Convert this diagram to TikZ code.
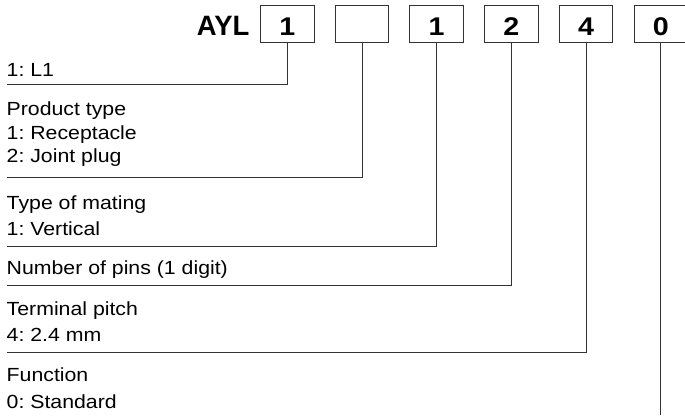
\documentclass[tikz,border=0pt]{standalone}
\usepackage{fontspec}
\setmainfont{Liberation Sans}[FakeStretch=1.12]
\newfontfamily\aylfont{Liberation Sans}[FakeStretch=0.98]
\frenchspacing
\begin{document}
\begin{tikzpicture}[x=1pt,y=-1pt,
  lbl/.style={anchor=base west,inner sep=0pt,font=\fontsize{19}{22}\selectfont},
  digit/.style={anchor=base,inner sep=0pt,font=\fontsize{25.6}{28}\selectfont\bfseries},
  codebox/.style={draw=black!80,line width=1pt,minimum width=53.6pt,minimum height=37.7pt,inner sep=0pt},
  conn/.style={draw=black!80,line width=1pt}]
\useasboundingbox (0,0) rectangle (685,416);
\begin{scope}
\clip (0,0) rectangle (685,416);
% prefix
\node[anchor=base east,inner sep=0pt,font=\fontsize{28}{30}\selectfont\aylfont\bfseries] (ayl) at (249.5,35) {AYL};
% boxes
\node[codebox] (b1) at (287.3,23.85) {};
\node[codebox] (b2) at (362.0,23.85) {};
\node[codebox] (b3) at (436.7,23.85) {};
\node[codebox] (b4) at (511.4,23.85) {};
\node[codebox] (b5) at (586.1,23.85) {};
\node[codebox] (b6) at (660.8,23.85) {};
\node[digit] (d1) at (287.3,35) {1};
\node[digit] (d3) at (436.7,35) {1};
\node[digit] (d4) at (511.4,35) {2};
\node[digit] (d5) at (586.1,35) {4};
\node[digit] (d6) at (660.8,35) {0};
% labels
\node[lbl] (t1) at (6.5,76) {1: L1};
\node[lbl] (t2a) at (6.5,115) {Product type};
\node[lbl] (t2b) at (6.5,139) {1: Receptacle};
\node[lbl] (t2c) at (6.5,162.7) {2: Joint plug};
\node[lbl] (t3a) at (6.5,209.3) {Type of mating};
\node[lbl] (t3b) at (6.5,235) {1: Vertical};
\node[lbl] (t4) at (6.5,274) {Number of pins (1 digit)};
\node[lbl] (t5a) at (6.5,315) {Terminal pitch};
\node[lbl] (t5b) at (6.5,341.7) {4: 2.4 mm};
\node[lbl] (t6a) at (6.5,381.7) {Function};
\node[lbl] (t6b) at (6.5,408.3) {0: Standard};
% connector ends
\coordinate (e1) at (7.3,84.3);
\coordinate (e2) at (7.3,177.7);
\coordinate (e3) at (7.3,246);
\coordinate (e4) at (7.3,285.7);
\coordinate (e5) at (7.3,352.3);
\coordinate (e6) at (660.8,415);
\draw[conn] (b1.south) |- (e1);
\draw[conn] (b2.south) |- (e2);
\draw[conn] (b3.south) |- (e3);
\draw[conn] (b4.south) |- (e4);
\draw[conn] (b5.south) |- (e5);
\draw[conn] (b6.south) -- (e6);
\end{scope}
\end{tikzpicture}
\end{document}
